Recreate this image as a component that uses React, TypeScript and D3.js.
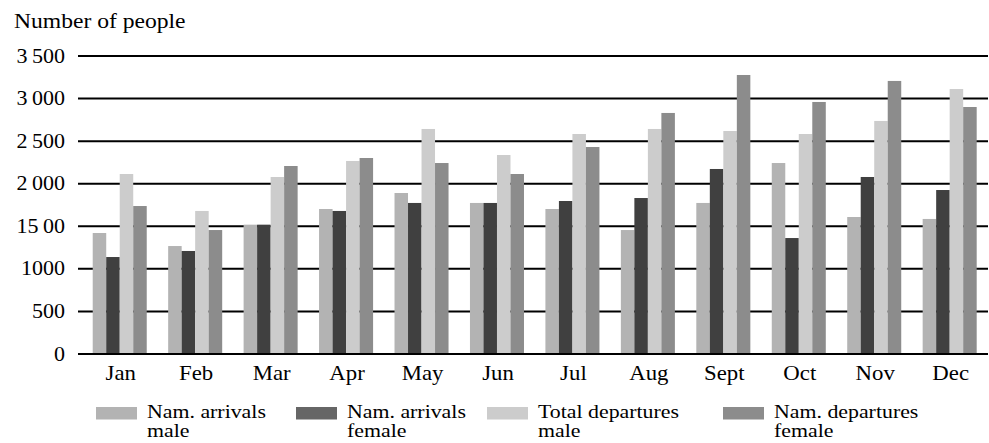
import React from "react";
import * as d3 from "d3";

const months = ["Jan", "Feb", "Mar", "Apr", "May", "Jun", "Jul", "Aug", "Sept", "Oct", "Nov", "Dec"];
const arrivalsMale = [1421, 1268, 1519, 1703, 1891, 1774, 1703, 1456, 1774, 2243, 1609, 1586];
const arrivalsFemale = [1139, 1210, 1519, 1680, 1774, 1774, 1797, 1832, 2173, 1362, 2079, 1926];
const departuresMale = [2114, 1680, 2079, 2267, 2643, 2337, 2584, 2643, 2619, 2584, 2737, 3112];
const departuresFemale = [1738, 1456, 2208, 2302, 2243, 2114, 2431, 2831, 3277, 2960, 3207, 2901];
const seriesKeys = ["am", "af", "dm", "df"];
const seriesLines = [
  ["Nam. arrivals", "male"],
  ["Nam. arrivals", "female"],
  ["Total departures", "male"],
  ["Nam. departures", "female"],
];
const tickValues = [0, 500, 1000, 1500, 2000, 2500, 3000, 3500];
const tickLabels = ["0", "500", "1000", "15\u200900", "2\u2009000", "2\u2009500", "3\u2009000", "3\u2009500"];
const yTitle = "Number of people";

const barColors = ["#b3b3b3", "#404040", "#cccccc", "#8c8c8c"];
const swatchColors = ["#b3b3b3", "#666666", "#cccccc", "#8c8c8c"];
const legendX = [96, 296, 487, 723];

const FONT = "'Liberation Serif', 'Times New Roman', serif";

export default function App() {
  const values = [arrivalsMale, arrivalsFemale, departuresMale, departuresFemale];
  const y = d3.scaleLinear().domain([0, 3500]).range([354, 56]);
  const x = d3.scaleBand<string>().domain(months).range([82, 987.4]).paddingInner(0.284).paddingOuter(0.142);
  const xi = d3.scaleBand<string>().domain(seriesKeys).range([0, x.bandwidth()]).padding(0);

  return (
    <svg width={989} height={443} style={{ position: "absolute", left: 0, top: 0, background: "#fff" }}>
      <rect x={0} y={0} width={989} height={443} fill="#fff" />
      <text transform={`translate(14,28) scale(1.18,1)`} fontFamily={FONT} fontSize={20} fill="#000">
        {yTitle}
      </text>
      {tickValues.map((t, i) => (
        <g key={t}>
          {t !== 0 && <line x1={78} x2={988} y1={y(t)} y2={y(t)} stroke="#000" strokeWidth={2} />}
          <text
            transform={`translate(65,${y(t) + 6.5}) scale(1.1,1)`}
            textAnchor="end"
            fontFamily={FONT}
            fontSize={20}
            fill="#000"
          >
            {tickLabels[i]}
          </text>
        </g>
      ))}
      {months.map((m, mi) => (
        <g key={m}>
          {seriesKeys.map((k, si) => (
            <rect
              key={k}
              x={(x(m) as number) + (xi(k) as number)}
              y={y(values[si][mi])}
              width={xi.bandwidth()}
              height={y(0) - y(values[si][mi])}
              fill={barColors[si]}
            />
          ))}
          <text
            transform={`translate(${(x(m) as number) + x.bandwidth() / 2 + 1},380) scale(1.14,1)`}
            textAnchor="middle"
            fontFamily={FONT}
            fontSize={20}
            fill="#000"
          >
            {m}
          </text>
        </g>
      ))}
      <line x1={78} x2={988} y1={y(0)} y2={y(0)} stroke="#000" strokeWidth={2} />
      {seriesLines.map((lines, i) => (
        <g key={i}>
          <rect x={legendX[i]} y={407} width={41} height={12.5} fill={swatchColors[i]} />
          {lines.map((ln, j) => (
            <text
              key={j}
              transform={`translate(${legendX[i] + 51},${418 + j * 19}) scale(1.15,1)`}
              fontFamily={FONT}
              fontSize={19}
              fill="#000"
            >
              {ln}
            </text>
          ))}
        </g>
      ))}
    </svg>
  );
}
